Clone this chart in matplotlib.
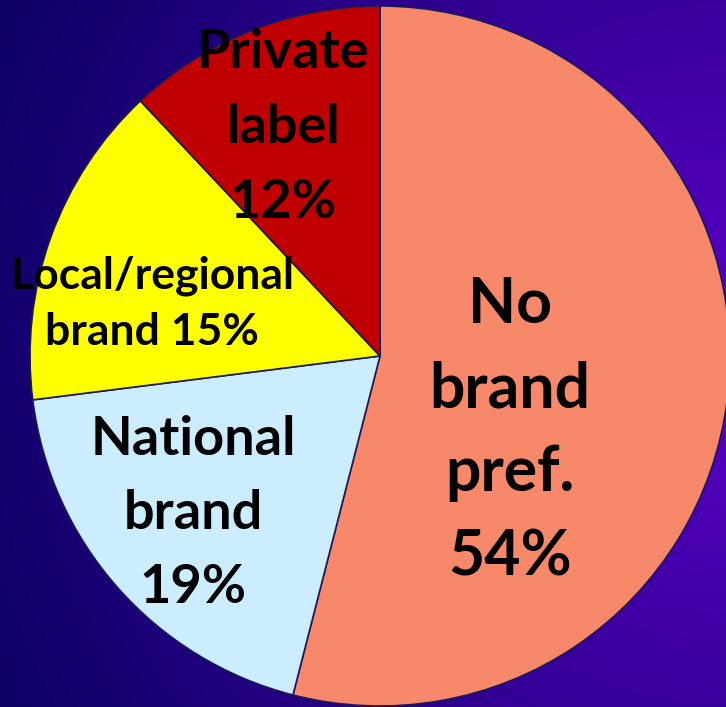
import numpy as np
import matplotlib
matplotlib.use("Agg")
import matplotlib.pyplot as plt

# Brand preference shares (clockwise from 12 o'clock)
categories = ["No brand pref.", "National brand", "Local/regional brand", "Private label"]
shares = [54, 19, 15, 12]
labels = [
    "No\nbrand\npref.\n54%",
    "National\nbrand\n19%",
    "Local/regional\nbrand 15%",
    "Private\nlabel\n12%",
]
colors = ["#F8886A", "#CCECFF", "#FFFF00", "#C00000"]

W, H = 726, 707
fig = plt.figure(figsize=(W / 100, H / 100), dpi=100)
ax = fig.add_axes([0, 0, 1, 1])
ax.set_xlim(0, W)
ax.set_ylim(0, H)
ax.set_aspect("equal")
ax.axis("off")

# Radial purple gradient background, brightest at the right edge
yy, xx = np.mgrid[0:H, 0:W]
d = np.hypot(xx - W, (H - yy) - 354)
t = np.clip(d / 800.0, 0, 1)[..., None]
bright = np.array([92, 0, 200]) / 255.0
dark = np.array([12, 0, 100]) / 255.0
bg = bright + (dark - bright) * t
ax.imshow(bg, extent=[0, W, 0, H], origin="upper", zorder=0)

cx, cy, r = 380, H - 356, 350
ax.pie(shares, colors=colors, startangle=90, counterclock=False,
       center=(cx, cy), radius=r, frame=True,
       wedgeprops=dict(edgecolor="#1A1A5A", linewidth=1.2, zorder=1))
ax.set_xlim(0, W)
ax.set_ylim(0, H)
ax.axis("off")

# label placement: (center x, first baseline y from top, line pitch, font size)
layout = [
    (510, 323, 84, 45),
    (193, 455, 74, 39),
    (152, 288, 57, 32),
    (283, 68, 75, 39),
]
for text, (lx, by, pitch, fs) in zip(labels, layout):
    for i, line in enumerate(text.split("\n")):
        ax.text(lx, H - (by + i * pitch), line, ha="center", va="baseline",
                fontsize=fs, fontweight="bold", family=["Lato", "DejaVu Sans"],
                color="black", zorder=5)

fig.savefig("out.png", dpi=100)
